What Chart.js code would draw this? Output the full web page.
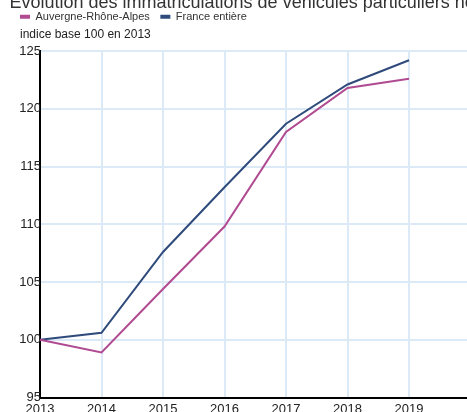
<!DOCTYPE html>
<html><head><meta charset="utf-8">
<style>
html,body{margin:0;padding:0;overflow:hidden;background:#fff;width:467px;height:412px;}
#wrap{position:absolute;left:0;top:-2px;width:520px;height:420px;}
</style>
<script src="https://cdn.jsdelivr.net/npm/chart.js"></script>
</head><body><div id="wrap"><canvas id="c"></canvas></div>
<script>
const chartTitle = 'Évolution des immatriculations de véhicules particuliers neufs';
const unitLabel = 'indice base 100 en 2013';
const years = ['2013', '2014', '2015', '2016', '2017', '2018', '2019'];
const seriesNames = ['Auvergne-Rhône-Alpes', 'France entière'];
const araValues = [100, 98.9, 104.4, 109.8, 118.0, 121.8, 122.6];
const franceValues = [100, 100.6, 107.6, 113.2, 118.7, 122.1, 124.2];
const yMin = 95, yMax = 125, yStep = 5;

Chart.defaults.font.family = "'Liberation Sans', Arial, sans-serif";

const legendSpacer = {
  id: 'legendSpacer',
  beforeInit(chart) {
    if (chart.legend && !chart.legend._patched) {
      const fit = chart.legend.fit;
      chart.legend.fit = function () { fit.call(this); this.height += 18.8; };
      chart.legend._patched = true;
    }
  },
  afterDraw(chart) {
    const ctx = chart.ctx, a = chart.chartArea;
    ctx.save();
    ctx.font = "12px 'Liberation Sans', Arial, sans-serif";
    ctx.fillStyle = '#222';
    ctx.textAlign = 'left';
    ctx.textBaseline = 'middle';
    ctx.fillText(unitLabel, a.left - 20, a.top - 16);
    ctx.restore();
  }
};

const gridColor = '#dce9f6';

new Chart(document.getElementById('c'), {
  type: 'line',
  data: {
    labels: years.concat(['']),
    datasets: [
      { label: seriesNames[0], data: araValues, borderColor: '#b04a91', backgroundColor: '#b04a91', borderWidth: 2, pointRadius: 0, tension: 0, yAxisID: 'y' },
      { label: seriesNames[1], data: franceValues, borderColor: '#2f4b7c', backgroundColor: '#2f4b7c', borderWidth: 2, pointRadius: 0, tension: 0, yAxisID: 'y' }
    ]
  },
  options: {
    responsive: true,
    maintainAspectRatio: false,
    devicePixelRatio: 1,
    animation: false,
    layout: { padding: { left: 9.5, right: 0, top: 0.5, bottom: 0.5 } },
    plugins: {
      title: {
        display: true, text: chartTitle, align: 'start', color: '#333',
        font: { size: 18, weight: 'normal', lineHeight: 1 },
        padding: { top: -4, bottom: -11.8 }
      },
      legend: {
        display: true, position: 'top', align: 'start',
        labels: {
          boxWidth: 10, boxHeight: 4, padding: 10.5, color: '#333',
          font: { size: 11 },
          generateLabels(chart) {
            const items = Chart.defaults.plugins.legend.labels.generateLabels(chart);
            items.forEach(i => { i.lineWidth = 0; i.fillStyle = i.strokeStyle; });
            return items;
          }
        }
      },
      tooltip: { enabled: false }
    },
    scales: {
      x: {
        type: 'category',
        grid: { color: gridColor, lineWidth: 2, drawTicks: false },
        border: { display: true, color: '#000', width: 2 },
        ticks: { color: '#222', font: { size: 13 }, padding: 4, maxRotation: 0, autoSkip: false },
        afterFit(s) { s.height = 20; }
      },
      y: {
        position: 'left',
        min: yMin, max: yMax,
        grid: { color: gridColor, lineWidth: 2, drawTicks: false },
        border: { display: true, color: '#000', width: 2 },
        ticks: { stepSize: yStep, color: '#222', font: { size: 13 }, padding: -1 },
        afterFit(s) { s.width = 30.5; }
      },
      ySpace: {
        position: 'right',
        min: yMin, max: yMax,
        grid: { display: false, drawTicks: false },
        border: { display: false },
        ticks: { display: false },
        afterFit(s) { s.width = 49.5; }
      }
    }
  },
  plugins: [legendSpacer]
});
</script>
</body></html>
